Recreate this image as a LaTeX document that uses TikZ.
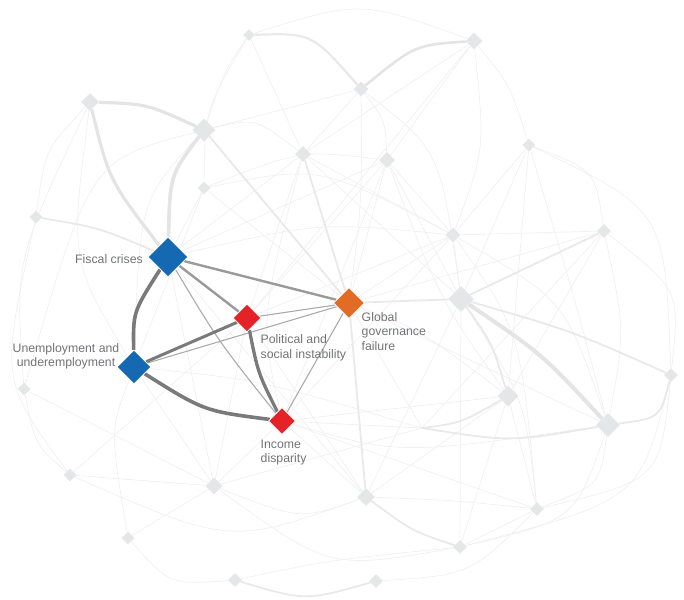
\documentclass[tikz,border=0pt]{standalone}
\usepackage{fontspec}
\setmainfont{Liberation Sans}
\usetikzlibrary{shapes.geometric}
\definecolor{ngray}{HTML}{E5E6E7}
\definecolor{ethin}{HTML}{F0F0F0}
\definecolor{emid}{HTML}{E9E9E9}
\definecolor{ethick}{HTML}{E4E4E4}
\definecolor{fblue}{HTML}{1569B2}
\definecolor{fred}{HTML}{E42228}
\definecolor{forange}{HTML}{E26B25}
\definecolor{hdark}{HTML}{7A7A7A}
\definecolor{hmidc}{HTML}{9A9A9A}
\definecolor{hlight}{HTML}{ABABAB}
\definecolor{lbl}{HTML}{727375}
\pgfdeclarelayer{edges}
\pgfsetlayers{edges,main}
\begin{document}
\begin{tikzpicture}[x=1pt,y=-1pt,
 bgn/.style={diamond,fill=ngray,inner sep=0pt,minimum size=#1},
 kn/.style={diamond,fill=#1,draw=white,line width=0.8pt,inner sep=0pt},
 thn/.style={draw=ethin,line width=0.7pt},
 md/.style={draw=emid,line width=1.8pt},
 tk/.style={draw=ethick,line width=3.2pt},
 hd/.style={draw=hdark,line width=3.6pt},
 hm/.style={draw=hmidc,line width=2.4pt},
 hl/.style={draw=hlight,line width=1.1pt},
 lab/.style={text=lbl,inner sep=0pt,font=\fontsize{12.3}{14.5}\selectfont}]
\useasboundingbox (0,0) rectangle (684,599);
% background nodes
\node[bgn=12] (g1) at (249,35) {};
\node[bgn=17] (g2) at (474,41) {};
\node[bgn=18] (g3) at (90,102) {};
\node[bgn=23] (g4) at (204,130) {};
\node[bgn=15] (g5) at (361,89) {};
\node[bgn=16] (g6) at (303,154) {};
\node[bgn=16] (g7) at (387,160) {};
\node[bgn=13] (g8) at (204,188) {};
\node[bgn=13] (g9) at (36,217) {};
\node[bgn=13] (g10) at (529,145) {};
\node[bgn=15] (g11) at (453,235) {};
\node[bgn=14] (g12) at (604,231) {};
\node[bgn=26] (g13) at (461,299) {};
\node[bgn=14] (g14) at (671,375) {};
\node[bgn=21] (g15) at (508,396) {};
\node[bgn=24] (g16) at (608,425) {};
\node[bgn=13] (g17) at (24,389) {};
\node[bgn=13] (g18) at (70,475) {};
\node[bgn=17] (g19) at (214,486) {};
\node[bgn=18] (g20) at (366,497) {};
\node[bgn=14] (g21) at (537,509) {};
\node[bgn=14] (g22) at (460,547) {};
\node[bgn=13] (g23) at (128,538) {};
\node[bgn=14] (g24) at (235,580) {};
\node[bgn=14] (g25) at (376,581) {};
\coordinate (X) at (422,428);
% key nodes
\node[kn=fblue,minimum size=40pt] (fc) at (168,257) {};
\node[kn=fblue,minimum size=34pt] (ue) at (134,367) {};
\node[kn=fred,minimum size=28pt] (ps) at (247,318) {};
\node[kn=forange,minimum size=31pt] (gg) at (349,303) {};
\node[kn=fred,minimum size=27pt] (id) at (282,421) {};
% labels
\node[lab,anchor=north east] (lfc) at (143,254) {Fiscal crises};
\node[lab,anchor=north,align=center] (lue) at (66,343) {Unemployment and\\underemployment};
\node[lab,anchor=north west,align=left] (lps) at (260.5,334.5) {Political and\\social instability};
\node[lab,anchor=north west,align=left] (lgg) at (361.5,312) {Global\\governance\\failure};
\node[lab,anchor=north west,align=left] (lid) at (260.5,439.5) {Income\\disparity};
\begin{pgfonlayer}{edges}
% thin straight background edges
\foreach \a/\b in {g1/g6,g4/g5,g5/g6,g2/g7,g2/g6,g2/ps,g7/g11,g7/ps,g7/id,g7/fc,g8/gg,g8/fc,g10/g15,g10/g11,g11/g12,g11/ps,g11/g13,g11/id,g12/g15,g13/g22,g15/g21,g15/g22,g15/g20,X/g19,X/gg,g17/g19,g18/g19,g18/ps,g19/id,g19/ps,g19/ue,g19/fc,g20/id,g20/ps,g21/g22,g6/ps,g6/g11,g6/g13,g7/g13,gg/g7,gg/g11,gg/g12,gg/g16,ue/g8,id/g15,id/g21,g20/fc,g6/fc,g23/g19,X/id,g12/X,g13/g20,g10/g13}
  \draw[thn] (\a) -- (\b);
% thin curved background edges
\foreach \a/\c/\b in {g1/{(225,70)}/g4, g1/{(205,110)}/g8, g1/{(360,0)}/g2, g3/{(45,150)}/g9,
  g3/{(15,260)}/g17, g3/{(70,260)}/ue, g4/{(255,118)}/g6, g4/{(90,160)}/g17,
  g8/{(300,150)}/g7, g8/{(320,165)}/g11, g5/{(385,120)}/g7, g5/{(440,150)}/g13,
  g5/{(362,200)}/gg, g2/{(485,150)}/g11, g2/{(510,85)}/g10, g7/{(440,300)}/g15,
  g10/{(595,170)}/g12, g10/{(665,210)}/g14, g10/{(575,300)}/g16, g11/{(520,330)}/g21,
  g11/{(565,300)}/g16, fc/{(320,222)}/g11, g12/{(625,330)}/g16, g12/{(680,290)}/g14,
  g13/{(525,400)}/g21, g16/{(600,485)}/g21, g16/{(575,520)}/g22, g14/{(640,500)}/g22,
  X/{(260,380)}/ue, g17/{(35,445)}/g18, g18/{(230,545)}/g20, g19/{(300,520)}/g20,
  g19/{(330,570)}/g22, g20/{(450,500)}/g21, g25/{(470,575)}/g21, g23/{(170,585)}/g24,
  g23/{(110,430)}/ue, g24/{(330,560)}/g22, g9/{(0,380)}/g18, ue/{(140,200)}/g4,
  g6/{(260,320)}/id, gg/{(420,330)}/g15, id/{(400,455)}/g16, g14/{(660,480)}/g21}
  \draw[thn] (\a) .. controls \c .. (\b);
% medium background edges
\draw[md] (g6) -- (gg);
\draw[md] (g4) -- (gg);
\draw[md] (g9) .. controls (100,228) .. (fc);
\draw[md] (g13) -- (g12);
\draw[md] (gg) -- (g13);
\draw[md] (g13) .. controls (572,331) .. (g14);
\draw[md] (g16) .. controls (660,418) .. (g14);
\draw[md] (g13) .. controls (492,343) .. (g15);
\draw[md] (g15) .. controls (461,423) .. (X);
\draw[md] (X) .. controls (510,442) .. (g16);
\draw[md] (gg) -- (g20);
\draw[md] (g20) .. controls (412,531) .. (g22);
\draw[md] (g24) .. controls (305,601) .. (g25);
\draw[md,line width=2.2pt] (g1) .. controls (312,33) .. (g5);
% thick background edges
\draw[tk] (g3) .. controls (147,104) .. (g4);
\draw[tk] (g3) .. controls (109,180) .. (fc);
\draw[tk,line width=3.6pt] (g4) .. controls (170,175) .. (fc);
\draw[tk,line width=2.6pt] (g5) .. controls (415,45) .. (g2);
\draw[tk,line width=4pt] (g13) .. controls (542,354) .. (g16);
% highlighted edges
\draw[hl] (fc) .. controls (219,342) .. (id);
\draw[hl] (ue) -- (gg);
\draw[hl] (ps) -- (gg);
\draw[hl] (gg) -- (id);
\draw[hm] (fc) -- (ps);
\draw[hm] (fc) -- (gg);
\draw[hd,line width=3pt] (ue) -- (ps);
\draw[hd] (fc) .. controls (133,312) .. (ue);
\draw[hd] (ue) .. controls (204,411) .. (id);
\draw[hd,line width=3.3pt] (ps) .. controls (258,373) .. (id);
\end{pgfonlayer}
\end{tikzpicture}
\end{document}
